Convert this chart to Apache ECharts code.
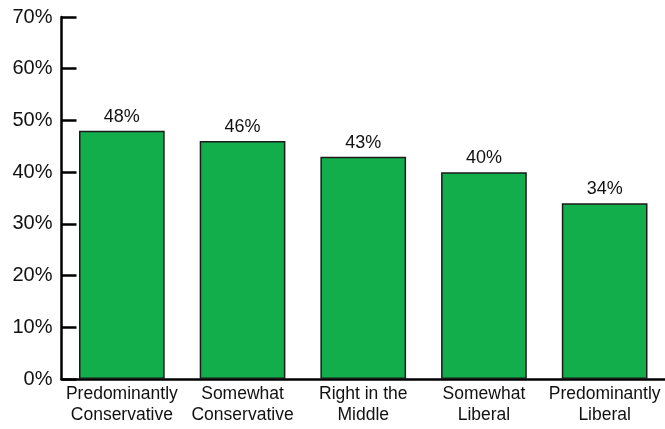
<!DOCTYPE html>
<html>
<head>
<meta charset="utf-8">
<script src="https://cdn.jsdelivr.net/npm/echarts@6/dist/echarts.min.js"></script>
<style>html,body{margin:0;padding:0;background:#fff;}#c{width:665px;height:429px;}</style>
</head>
<body>
<div id="c"></div>
<script>
const categories = ["Predominantly\nConservative", "Somewhat\nConservative", "Right in the\nMiddle", "Somewhat\nLiberal", "Predominantly\nLiberal"];
const values = [48, 46, 43, 40, 34];
const yTicks = [0, 10, 20, 30, 40, 50, 60, 70];

const chart = echarts.init(document.getElementById('c'), null, {renderer: 'canvas'});
chart.setOption({
  animation: false,
  backgroundColor: '#ffffff',
  grid: {left: 61.5, top: 17, width: 610, height: 362, containLabel: false},
  xAxis: {
    type: 'category',
    data: categories,
    axisLine: {lineStyle: {color: '#000', width: 2.5}},
    axisTick: {show: false},
    axisLabel: {color: '#111', fontFamily: 'Liberation Sans, Arial, sans-serif', fontSize: 17.5, lineHeight: 21, margin: 5, interval: 0}
  },
  yAxis: {
    type: 'value',
    min: yTicks[0],
    max: yTicks[yTicks.length - 1],
    interval: 10,
    splitLine: {show: false},
    axisLine: {show: true, lineStyle: {color: '#000', width: 2.5}},
    axisTick: {show: true, inside: true, length: 15, lineStyle: {color: '#000', width: 2.5}},
    axisLabel: {color: '#111', fontFamily: 'Liberation Sans, Arial, sans-serif', fontSize: 20, margin: 9, formatter: v => v + '%'}
  },
  series: [{
    type: 'bar',
    data: values,
    barWidth: '71%',
    itemStyle: {color: '#12AE4B', borderColor: '#1a1a1a', borderWidth: 1.5},
    label: {show: true, position: 'top', distance: 5, color: '#111', fontFamily: 'Liberation Sans, Arial, sans-serif', fontSize: 18, formatter: p => p.value + '%'}
  }]
});
</script>
</body>
</html>
